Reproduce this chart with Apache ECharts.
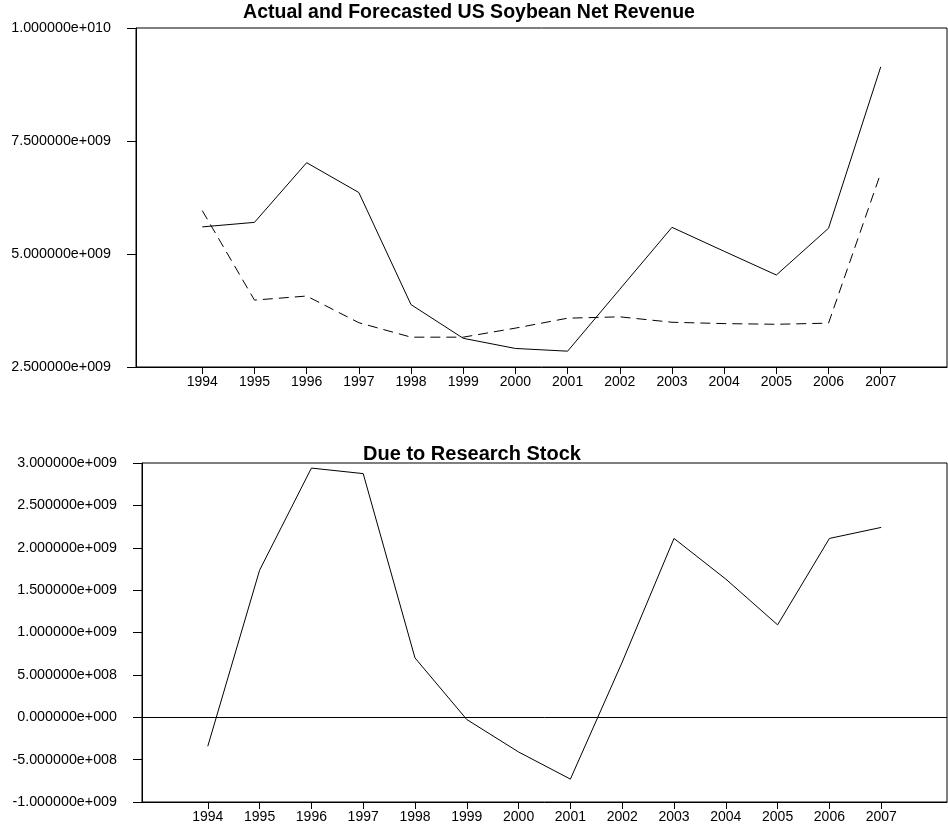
<!DOCTYPE html>
<html>
<head>
<meta charset="utf-8">
<script src="https://cdn.jsdelivr.net/npm/echarts@6/dist/echarts.min.js"></script>
<style>
  html, body { margin: 0; padding: 0; background: #fff; }
  #chart { width: 948px; height: 831px; }
</style>
</head>
<body>
<div id="chart"></div>
<script>
// Years shown on both horizontal axes
const years = [1994, 1995, 1996, 1997, 1998, 1999, 2000, 2001, 2002, 2003, 2004, 2005, 2006, 2007];

// US soybean net revenue (dollars): actual and forecasted
const actualRevenue = [5.60e9, 5.70e9, 7.02e9, 6.36e9, 3.88e9, 3.135e9, 2.91e9, 2.85e9, 4.22e9, 5.59e9, 5.06e9, 4.535e9, 5.57e9, 9.14e9];
const forecastRevenue = [5.96e9, 3.98e9, 4.07e9, 3.48e9, 3.16e9, 3.16e9, 3.36e9, 3.58e9, 3.61e9, 3.49e9, 3.46e9, 3.445e9, 3.47e9, 6.79e9];

// Net revenue attributable to the research stock (dollars)
const researchStock = [-0.342e9, 1.735e9, 2.94e9, 2.875e9, 0.70e9, -0.027e9, -0.41e9, -0.73e9, 0.65e9, 2.11e9, 1.63e9, 1.09e9, 2.11e9, 2.24e9];

// Vertical axis tick settings
const revenueTicks = { min: 2.5e9, max: 1.0e10, interval: 2.5e9 };
const stockTicks = { min: -1.0e9, max: 3.0e9, interval: 5.0e8 };

const FONT = '"Liberation Sans", Arial, Helvetica, sans-serif';
const XPAD = 1.27; // empty space either side of the first/last year, in years

// Scientific notation with a three-digit exponent, e.g. 7.500000e+009
function sci(v) {
  const parts = Number(v).toExponential(6).split('e');
  const sign = parts[1][0];
  const digits = parts[1].slice(1).padStart(3, '0');
  return parts[0] + 'e' + sign + digits;
}

function xAxisFor(gridIndex) {
  return {
    type: 'value',
    gridIndex: gridIndex,
    min: years[0] - XPAD,
    max: years[years.length - 1] + XPAD,
    splitLine: { show: false },
    axisLine: { show: true, onZero: false, lineStyle: { color: '#000', width: 1 } },
    axisTick: { show: true, inside: false, length: 7, customValues: years, lineStyle: { color: '#000', width: 1 } },
    axisLabel: {
      show: true, customValues: years, margin: 8,
      color: '#000', fontFamily: FONT, fontSize: 14,
      formatter: function (v) { return String(v); }
    }
  };
}

function yAxisFor(gridIndex, ticks) {
  return {
    type: 'value',
    gridIndex: gridIndex,
    min: ticks.min,
    max: ticks.max,
    interval: ticks.interval,
    splitLine: { show: false },
    axisLine: { show: true, onZero: false, lineStyle: { color: '#000', width: 1 } },
    axisTick: { show: true, inside: false, length: 9, lineStyle: { color: '#000', width: 1 } },
    axisLabel: {
      show: true, margin: 25, color: '#000', fontFamily: FONT, fontSize: 14.3,
      showMinLabel: true, showMaxLabel: true,
      formatter: sci
    }
  };
}

function pairs(values) {
  return values.map(function (v, i) { return [years[i], v]; });
}

const chart = echarts.init(document.getElementById('chart'), null, { renderer: 'canvas' });

chart.setOption({
  animation: false,
  backgroundColor: '#fff',
  title: [
    {
      text: 'Actual and Forecasted US Soybean Net Revenue',
      left: 464, top: -2, textAlign: 'center',
      textStyle: { fontFamily: FONT, fontSize: 19.5, fontWeight: 'bold', color: '#000' }
    },
    {
      text: 'Due to Research Stock',
      left: 467, top: 439, textAlign: 'center',
      textStyle: { fontFamily: FONT, fontSize: 20, fontWeight: 'bold', color: '#000' }
    }
  ],
  grid: [
    { left: 136, top: 28, right: 1, height: 339, show: true, borderColor: '#000', borderWidth: 1, backgroundColor: 'transparent' },
    { left: 142, top: 463, right: 1, height: 339, show: true, borderColor: '#000', borderWidth: 1, backgroundColor: 'transparent' }
  ],
  xAxis: [xAxisFor(0), xAxisFor(1)],
  yAxis: [yAxisFor(0, revenueTicks), yAxisFor(1, stockTicks)],
  series: [
    {
      name: 'Actual', type: 'line', xAxisIndex: 0, yAxisIndex: 0,
      data: pairs(actualRevenue), showSymbol: false, symbol: 'none',
      lineStyle: { color: '#000', width: 1, type: 'solid' }
    },
    {
      name: 'Forecast', type: 'line', xAxisIndex: 0, yAxisIndex: 0,
      data: pairs(forecastRevenue), showSymbol: false, symbol: 'none',
      lineStyle: { color: '#000', width: 1, type: [10, 6] }
    },
    {
      name: 'Research Stock', type: 'line', xAxisIndex: 1, yAxisIndex: 1,
      data: pairs(researchStock), showSymbol: false, symbol: 'none',
      lineStyle: { color: '#000', width: 1, type: 'solid' },
      markLine: {
        silent: true, symbol: 'none', animation: false,
        label: { show: false },
        lineStyle: { color: '#000', width: 1, type: 'solid' },
        data: [{ yAxis: 0 }]
      }
    }
  ]
});
</script>
</body>
</html>
